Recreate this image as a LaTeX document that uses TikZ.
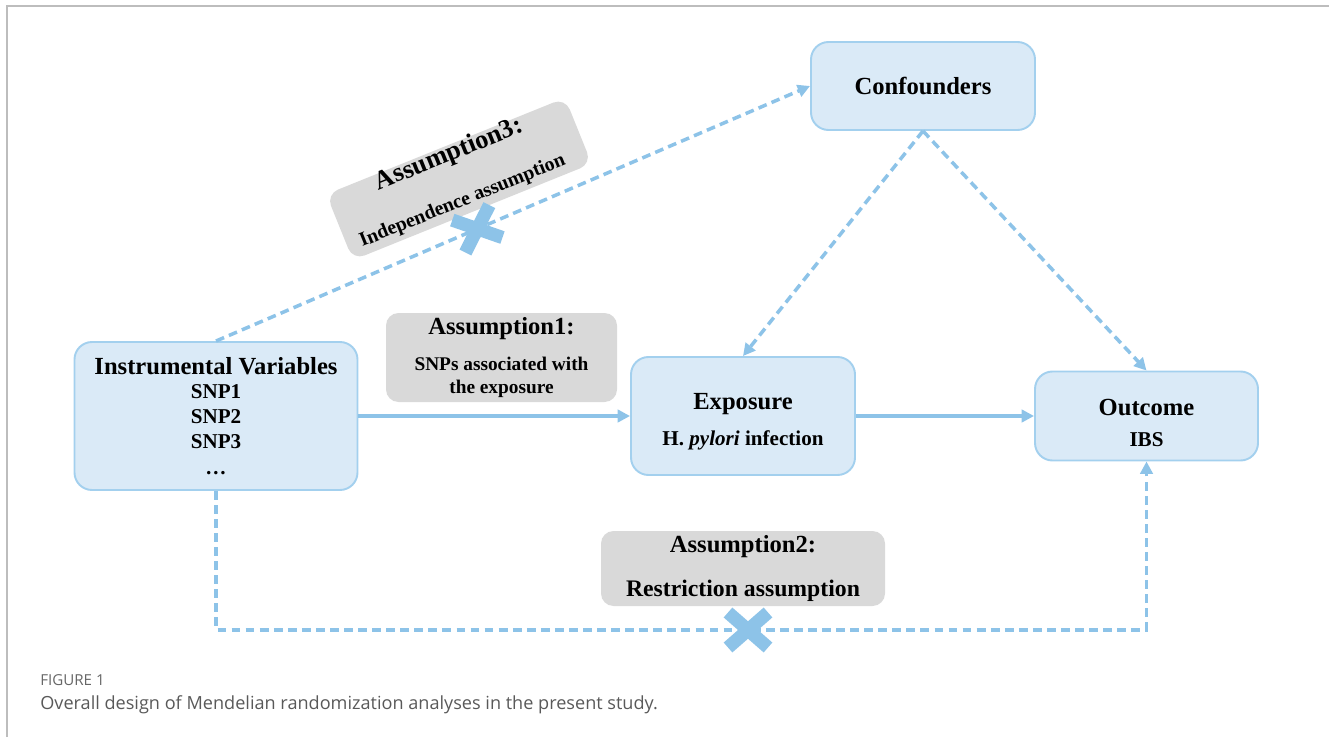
\documentclass[tikz,border=0pt]{standalone}
\usepackage{fontspec}
\setmainfont{Liberation Serif}
\newfontfamily\capfont{Open Sans}
\usetikzlibrary{arrows.meta,shapes.misc}
\definecolor{boxfill}{HTML}{DAEAF7}
\definecolor{boxline}{HTML}{A3D0EE}
\definecolor{arrowblue}{HTML}{8DC3E8}
\definecolor{notegray}{HTML}{D9D9D9}
\definecolor{framegray}{HTML}{BDBDBD}
\newcommand{\hdr}{\fontsize{14}{17}\selectfont}
\newcommand{\lift}[1]{\rule{0pt}{#1}}
\tikzset{
  bluebox/.style={draw=boxline, fill=boxfill, line width=1.1pt, rounded corners=0.35cm, align=center, inner sep=2pt,
    font=\bfseries\fontsize{12}{14.5}\selectfont},
  graybox/.style={fill=notegray, rounded corners=0.25cm, align=center, inner sep=2pt},
  link/.style={arrowblue, line width=2pt, -{Triangle[length=7pt,width=7pt]}},
  dlink/.style={link, dash pattern=on 5pt off 3pt},
  xmark/.style={cross out, draw=arrowblue, solid, line width=7.5pt, minimum width=0.8cm, minimum height=0.7cm, inner sep=0pt, outer sep=0pt}
}
\begin{document}
\begin{tikzpicture}
\useasboundingbox (0,0) rectangle (26.58,14.74);
% frame
\draw[framegray, line width=1pt] (0.14,0) -- (0.14,14.62) -- (26.58,14.62);

% main boxes
\node[bluebox, minimum width=5.66cm, minimum height=2.96cm] (iv) at (4.32,6.42) {\hdr Instrumental Variables\\[-1pt] SNP1\\ SNP2\\ SNP3\\ \dots};
\node[bluebox, minimum width=4.48cm, minimum height=2.36cm] (exp) at (14.86,6.42) {\hdr\lift{16pt}Exposure\\[6pt] H. \textit{pylori} infection};
\node[bluebox, minimum width=4.46cm, minimum height=1.78cm] (out) at (22.93,6.42) {\hdr\lift{17pt}Outcome\\[3pt] IBS};
\node[bluebox, minimum width=4.48cm, minimum height=1.76cm] (conf) at (18.46,13.02) {\hdr Confounders};

% assumptions
\node[graybox, minimum width=4.62cm, minimum height=1.78cm, font=\bfseries\fontsize{11}{13.5}\selectfont] (a1) at (10.03,7.59)
  {\hdr Assumption1:\\[7pt] SNPs associated with\\ the exposure};
\node[graybox, minimum width=5.68cm, minimum height=1.5cm, font=\bfseries\fontsize{13.5}{16}\selectfont] (a2) at (14.86,3.37)
  {\hdr Assumption2:\\[9pt] Restriction assumption};
\node[graybox, rotate=22, minimum width=5.15cm, minimum height=1.42cm] (a3) at (9.18,11.16) {};
\node[rotate=22, yshift=0.52cm, font=\bfseries\fontsize{15}{18}\selectfont] (a3top) at (a3.center) {Assumption3:};
\node[rotate=22, xshift=-0.1cm, yshift=-0.44cm, font=\bfseries\fontsize{11.3}{13.5}\selectfont] (a3bot) at (a3.center) {Independence assumption};

% arrows
\draw[link] (iv.east) -- (exp.west);
\draw[link] (exp.east) -- (out.west);
\draw[dlink] (conf.south) -- (exp.north);
\draw[dlink] (conf.south) -- (out.north);
\draw[dlink] (iv.north) -- (conf.west);
\coordinate (low) at (0,2.14);
\draw[dlink] (iv.south) -- (iv.south |- low) -- (out.south |- low) -- (out.south);

% crosses
\path (iv.north) -- (conf.west) node[xmark, pos=0.44, rotate=22] (x3) {};
\node[xmark] (x2) at (14.96,2.14) {};

% caption
\node[anchor=west, inner sep=0pt, text=black!60] (figlbl) at (0.8,1.14) {\capfont\fontsize{8.6}{10}\selectfont FIGURE 1};
\node[anchor=west, inner sep=0pt, text=black!65] (figcap) at (0.8,0.64) {\capfont\fontsize{10.3}{12}\selectfont Overall design of Mendelian randomization analyses in the present study.};
\end{tikzpicture}
\end{document}
